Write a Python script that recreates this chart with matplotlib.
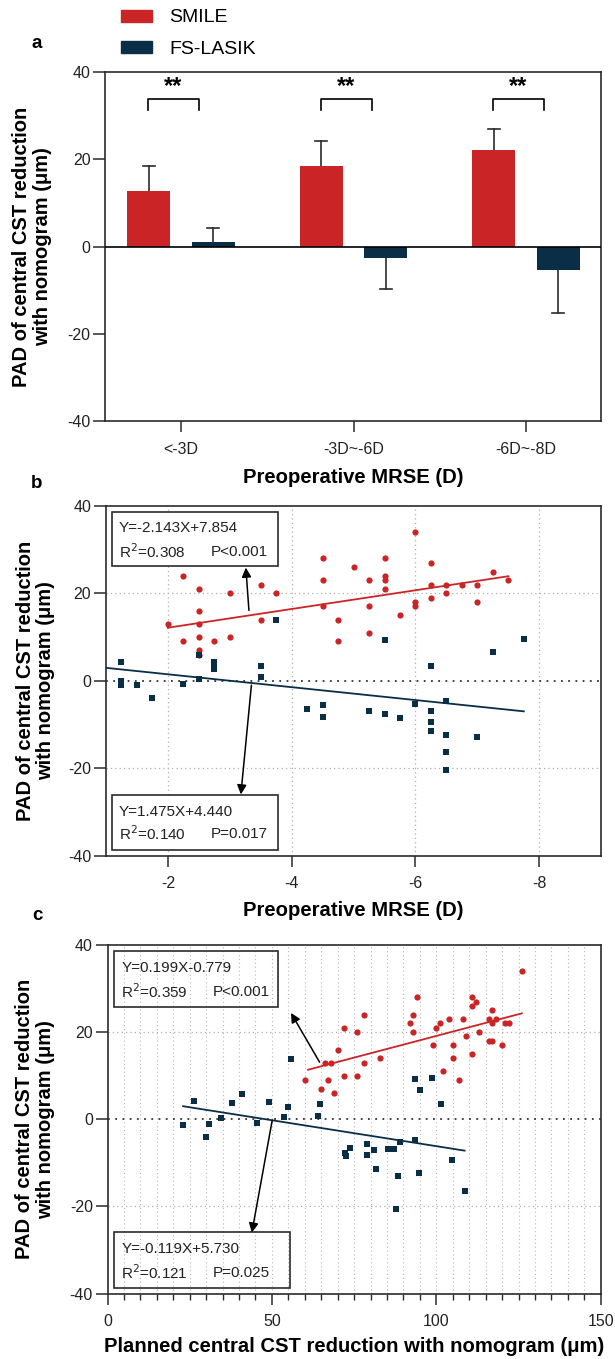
import numpy as np
import matplotlib
matplotlib.use('Agg')
import matplotlib.pyplot as plt
from matplotlib.patches import Rectangle, Patch
from matplotlib.ticker import MultipleLocator

plt.rcParams['font.family'] = ['Liberation Sans', 'DejaVu Sans']
plt.rcParams['axes.unicode_minus'] = False

RED = '#CB2427'
NAVY = '#0B2E47'
AXC = '#2b2b2b'

# ---- panel a : bars ----
groups = ['<-3D', '-3D~-6D', '-6D~-8D']
smile_mean = [12.8, 18.4, 22.1]
smile_err = [5.7, 5.9, 4.8]
lasik_mean = [1.1, -2.7, -5.3]
lasik_err = [3.2, 7.1, 10.0]

# ---- panel b : MRSE scatter ----
b_smile_x = [-2.0, -2.25, -2.25, -2.5, -2.5, -2.5, -2.5, -2.5, -2.5, -2.75, -3.0, -3.0, -3.5, -3.5,
             -3.75, -4.5, -4.5, -4.5, -4.75, -4.75, -5.0, -5.25, -5.25, -5.25, -5.5, -5.5, -5.5,
             -5.5, -5.75, -6.0, -6.0, -6.0, -6.25, -6.25, -6.25, -6.5, -6.5, -6.75, -7.0, -7.0,
             -7.25, -7.5]
b_smile_y = [13, 24, 9, 21, 16, 13, 10, 7, 6, 9, 20, 10, 22, 14, 20, 28, 23, 17, 14, 9, 26, 23, 17,
             11, 28, 24, 23, 21, 15, 34, 18, 17, 27, 22, 19, 22, 20, 22, 22, 18, 25, 23]
b_lasik_x = [-1.25, -1.25, -1.25, -1.5, -1.75, -2.25, -2.5, -2.5, -2.75, -2.75, -2.75, -3.5, -3.5,
             -3.75, -4.25, -4.5, -4.5, -5.25, -5.5, -5.5, -5.75, -6.0, -6.25, -6.25, -6.25, -6.25,
             -6.5, -6.5, -6.5, -6.5, -7.0, -7.25, -7.75]
b_lasik_y = [4.2, 0, -1, -1, -4, -0.8, 0.5, 5.8, 4.2, 3.3, 2.6, 3.4, 0.9, 13.9, -6.5, -5.5, -8.2,
             -6.9, -7.7, 9.3, -8.4, -5.2, 3.3, -6.9, -9.4, -11.4, -4.7, -12.3, -16.3, -20.4, -12.9,
             6.7, 9.5]
b_smile_fit = (-2.143, 7.854)
b_lasik_fit = (1.475, 4.440)
b_smile_line_x = [-2.0, -7.5]
b_lasik_line_x = [-1.0, -7.75]
b_smile_txt = ['Y=-2.143X+7.854', 'R$^2$=0.308', 'P<0.001']
b_lasik_txt = ['Y=1.475X+4.440', 'R$^2$=0.140', 'P=0.017']

# ---- panel c : planned CST reduction scatter ----
c_smile_x = [60, 65, 66, 67, 68, 69, 70, 72, 72, 76, 76, 78, 78, 83, 92, 93, 93, 94, 99, 100, 101,
             102, 104, 105, 105, 107, 108, 109, 111, 111, 112, 111, 113, 116, 117, 117, 117, 116,
             118, 120, 121, 122, 126]
c_smile_y = [9, 7, 13, 9, 13, 6, 16, 21, 10, 20, 10, 13, 24, 14, 22, 24, 20, 28, 17, 21, 22, 11, 23,
             17, 14, 9, 23, 19, 28, 26, 27, 15, 20, 23, 25, 22, 18, 18, 23, 17, 22, 22, 34]
c_lasik_x = [23, 26.4, 30, 31, 34.4, 38, 41, 45.5, 49, 53.6, 54.9, 55.8, 64, 64.5, 72.3, 72.6, 73.7,
             78.8, 79, 81.1, 81.7, 85.2, 87.1, 87.6, 88.2, 88.9, 93.5, 93.5, 94.6, 95, 98.6, 101.4,
             104.8, 108.8]
c_lasik_y = [-1.2, 4.2, -4, -1.1, 0.2, 3.7, 5.7, -0.8, 4.0, 0.5, 2.8, 13.8, 0.8, 3.4, -7.7, -8.5,
             -6.6, -8.1, -5.6, -7.1, -11.5, -6.9, -6.9, -20.5, -12.9, -5.3, 9.3, -4.8, -12.3, 6.8,
             9.5, 3.4, -9.4, -16.4]
c_smile_fit = (0.199, -0.779)
c_lasik_fit = (-0.119, 5.730)
c_smile_line_x = [61, 126]
c_lasik_line_x = [23, 108.6]
c_smile_txt = ['Y=0.199X-0.779', 'R$^2$=0.359', 'P<0.001']
c_lasik_txt = ['Y=-0.119X+5.730', 'R$^2$=0.121', 'P=0.025']

ylab = 'PAD of central CST reduction\nwith nomogram (μm)'
TICK_FS = 11.5
LAB_FS = 14.6
BOX_FS = 11

fig = plt.figure(figsize=(6.15, 13.59), dpi=100)
ax_a = fig.add_axes([0.1709, 0.6900, 0.8067, 0.2570])
ax_b = fig.add_axes([0.1722, 0.3704, 0.8054, 0.2573])
ax_c = fig.add_axes([0.1748, 0.0481, 0.8020, 0.2566])


def style(ax, lab_x):
    for s in ax.spines.values():
        s.set_color(AXC)
        s.set_linewidth(1.2)
    ax.tick_params(direction='out', width=1.1, color=AXC,
                   labelsize=TICK_FS, labelcolor='#222222')
    ax.tick_params(axis='x', length=7.7, pad=7)
    ax.tick_params(axis='y', length=8.5, pad=2)
    ax.set_ylim(-40, 40)
    ax.set_yticks([-40, -20, 0, 20, 40])
    ax.set_ylabel(ylab, fontsize=14.5, fontweight='bold', linespacing=1.1)
    ax.yaxis.set_label_coords(lab_x, 0.5)


# panel a
x = np.arange(len(groups))
w = 0.25
off = 0.1875
ax_a.bar(x - off, smile_mean, w, color=RED, zorder=2)
ax_a.bar(x + off, lasik_mean, w, color=NAVY, zorder=2)
for xs, m, e in [(x - off, smile_mean, smile_err), (x + off, lasik_mean, lasik_err)]:
    for xi, mi, ei in zip(xs, m, e):
        end = mi + ei if mi >= 0 else mi - ei
        ax_a.plot([xi, xi], [mi, end], color=AXC, lw=1.2, zorder=1)
        ax_a.plot([xi - 0.034, xi + 0.034], [end, end], color=AXC, lw=1.2, zorder=1)
ax_a.axhline(0, color='black', lw=1.2, zorder=3)
for xi in x:
    ax_a.plot([xi - 0.19, xi - 0.19, xi + 0.105, xi + 0.105], [31.2, 33.8, 33.8, 31.2],
              color='black', lw=1.2)
    ax_a.text(xi - 0.045, 36.6, '**', ha='center', va='center', fontsize=17, fontweight='bold')
ax_a.set_xlim(-0.44, 2.436)
ax_a.set_xticks(x)
ax_a.set_xticklabels(groups)
style(ax_a, (52 - 105.1) / 496)
ax_a.set_xlabel('Preoperative MRSE (D)', fontsize=LAB_FS, fontweight='bold', labelpad=8)


def fit_line(ax, xs, fit, color):
    xs = np.array(xs)
    ax.plot(xs, fit[0] * xs + fit[1], color=color, lw=1.3, zorder=3)


def info_box(ax, box, lines, ty, px, fill):
    x0, y0, x1, y1 = box
    ax.add_patch(Rectangle((x0, y0), x1 - x0, y1 - y0, transform=ax.transAxes,
                           facecolor='white' if fill else 'none', edgecolor=AXC, lw=1.2, zorder=5))
    ax.text(x0 + 0.014, ty[0], lines[0], transform=ax.transAxes, fontsize=BOX_FS,
            va='center', zorder=6, color='#222222')
    ax.text(x0 + 0.014, ty[1], lines[1], transform=ax.transAxes, fontsize=BOX_FS,
            va='center', zorder=6, color='#222222')
    ax.text(px, ty[1], lines[2], transform=ax.transAxes, fontsize=BOX_FS,
            va='center', zorder=6, color='#222222')


def arrow(ax, start, tip):
    ax.annotate('', xy=tip, xytext=start,
                arrowprops=dict(arrowstyle='-|>', color='black', lw=1.1, mutation_scale=14,
                                shrinkA=0, shrinkB=0), zorder=6)


# panel b
ax_b.set_xlim(-1, -9)
ax_b.set_xticks([-2, -4, -6, -8])
for gx in [-2, -4, -6, -8]:
    ax_b.axvline(gx, color='#b0b0b0', lw=0.9, ls=(0, (1, 2.5)), zorder=0)
for gy in [-20, 20]:
    ax_b.axhline(gy, color='#b0b0b0', lw=0.9, ls=(0, (1, 2.5)), zorder=0)
ax_b.axhline(0, color='#333333', lw=1.3, ls=(0, (1, 3)), zorder=1)
ax_b.scatter(b_smile_x, b_smile_y, s=20, marker='o', color=RED, linewidths=0, zorder=4)
ax_b.scatter(b_lasik_x, b_lasik_y, s=20, marker='s', color=NAVY, linewidths=0, zorder=4)
fit_line(ax_b, b_smile_line_x, b_smile_fit, RED)
fit_line(ax_b, b_lasik_line_x, b_lasik_fit, NAVY)
info_box(ax_b, (0.012, 0.828, 0.347, 0.983), b_smile_txt, (0.937, 0.869), 0.211, True)
info_box(ax_b, (0.012, 0.016, 0.347, 0.174), b_lasik_txt, (0.126, 0.062), 0.211, True)
arrow(ax_b, (-3.31, 16.1), (-3.26, 25.9))
arrow(ax_b, (-3.35, -1.0), (-3.18, -26.0))
style(ax_b, (55 - 105.9) / 495.3)
ax_b.set_xlabel('Preoperative MRSE (D)', fontsize=LAB_FS, fontweight='bold', labelpad=7)

# panel c
ax_c.set_xlim(0, 150)
ax_c.set_xticks([0, 50, 100, 150])
ax_c.xaxis.set_minor_locator(MultipleLocator(5))
for gx in np.arange(5, 150, 5):
    ax_c.axvline(gx, color='#b8b8b8', lw=0.8, ls=(0, (1, 2.5)), zorder=0)
for gy in [-20, 20]:
    ax_c.axhline(gy, color='#b0b0b0', lw=0.9, ls=(0, (1, 2.5)), zorder=0)
ax_c.axhline(0, color='#333333', lw=1.3, ls=(0, (1, 3)), zorder=1)
ax_c.scatter(c_smile_x, c_smile_y, s=20, marker='o', color=RED, linewidths=0, zorder=4)
ax_c.scatter(c_lasik_x, c_lasik_y, s=20, marker='s', color=NAVY, linewidths=0, zorder=4)
fit_line(ax_c, c_smile_line_x, c_smile_fit, RED)
fit_line(ax_c, c_lasik_line_x, c_lasik_fit, NAVY)
info_box(ax_c, (0.014, 0.822, 0.345, 0.983), c_smile_txt, (0.935, 0.866), 0.214, False)
info_box(ax_c, (0.014, 0.016, 0.369, 0.177), c_lasik_txt, (0.127, 0.059), 0.214, False)
arrow(ax_c, (64.5, 13.1), (55.8, 24.4))
arrow(ax_c, (50.1, -0.2), (43.9, -26.0))
style(ax_c, (55 - 107.5) / 493)
ax_c.tick_params(which='minor', direction='out', length=4, width=1.0, color=AXC)
ax_c.set_xlabel('Planned central CST reduction with nomogram (μm)', fontsize=LAB_FS,
                fontweight='bold', labelpad=6)

# panel letters
for lab, yp in [('a', 43), ('b', 484), ('c', 915)]:
    fig.text(37 / 615, 1 - yp / 1359, lab, fontsize=13.5, fontweight='bold', ha='center', va='center')

# legend
fig.legend(handles=[Patch(color=RED), Patch(color=NAVY)], labels=['SMILE', 'FS-LASIK'],
           loc='upper left', bbox_to_anchor=(121 / 615, 1 - 9.5 / 1359), frameon=False,
           fontsize=14, handlelength=1.6, handleheight=0.57, handletextpad=0.9,
           labelspacing=0.74, borderpad=0, borderaxespad=0)

fig.savefig('out.png', dpi=100)
